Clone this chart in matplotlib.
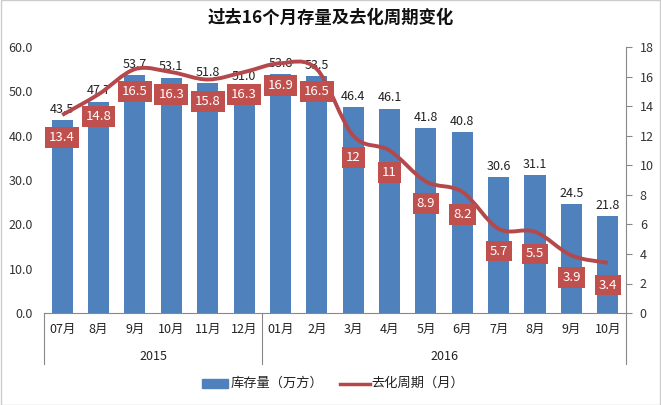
import matplotlib.pyplot as plt
import numpy as np
from matplotlib.path import Path
from matplotlib.patches import PathPatch, Rectangle

plt.rcParams['font.family'] = ['Noto Sans CJK SC', 'DejaVu Sans']

months = ["07月", "8月", "9月", "10月", "11月", "12月", "01月", "2月",
          "3月", "4月", "5月", "6月", "7月", "8月", "9月", "10月"]
years = ["2015", "2016"]
year_counts = [6, 10]
stock = [43.5, 47.7, 53.7, 53.1, 51.8, 51.0, 53.8, 53.5,
         46.4, 46.1, 41.8, 40.8, 30.6, 31.1, 24.5, 21.8]
cycle = [13.4, 14.8, 16.5, 16.3, 15.8, 16.3, 16.9, 16.5,
         12, 11, 8.9, 8.2, 5.7, 5.5, 3.9, 3.4]
cycle_labels = ["13.4", "14.8", "16.5", "16.3", "15.8", "16.3", "16.9", "16.5",
                "12", "11", "8.9", "8.2", "5.7", "5.5", "3.9", "3.4"]

bar_c = "#4F81BD"
line_c = "#B5484A"
box_c = "#C0504D"

fig = plt.figure(figsize=(6.61, 4.05), dpi=100)
ax = fig.add_axes([0.0666, 0.227, 0.8804, 0.657])
x = np.arange(len(months))

ax.bar(x, stock, width=0.58, color=bar_c, zorder=2)
for xi, v in zip(x, stock):
    ax.annotate(f"{v:.1f}", (xi, v), xytext=(0, 3), textcoords="offset points",
                ha="center", va="bottom", fontsize=9, color="#222222")

ax.set_xlim(-0.5, len(months) - 0.5)
ax.set_ylim(0, 60)
ax.set_yticks(np.arange(0, 61, 10))
ax.set_yticklabels([f"{v:.1f}" for v in range(0, 61, 10)], fontsize=9, color="#333333")
ax.tick_params(axis="y", length=0, pad=8)
ax.set_xticks(x)
ax.set_xticklabels(months, fontsize=9, color="#222222")
ax.tick_params(axis="x", length=0, pad=7)
for s in ["left", "top", "right"]:
    ax.spines[s].set_visible(False)
ax.spines["bottom"].set_color("#888888")

ax2 = ax.twinx()
ax2.set_ylim(0, 18)
ax2.set_yticks(np.arange(0, 19, 2))
ax2.tick_params(axis="y", labelsize=9, labelcolor="#333333", length=4, color="#888888", pad=6)
for s in ["left", "top", "bottom"]:
    ax2.spines[s].set_visible(False)
ax2.spines["right"].set_color("#888888")

# smoothed line (Catmull-Rom -> cubic Bezier)
pts = np.column_stack([x, cycle]).astype(float)
verts = [tuple(pts[0])]
codes = [Path.MOVETO]
n = len(pts)
t = 1 / 6
for i in range(n - 1):
    p0 = pts[max(i - 1, 0)]
    p1 = pts[i]
    p2 = pts[i + 1]
    p3 = pts[min(i + 2, n - 1)]
    c1 = p1 + (p2 - p0) * t
    c2 = p2 - (p3 - p1) * t
    verts += [tuple(c1), tuple(c2), tuple(p2)]
    codes += [Path.CURVE4] * 3
ax2.add_patch(PathPatch(Path(verts, codes), facecolor="none", edgecolor=line_c, lw=2.8, zorder=3))

for xi, v, lab in zip(x, cycle, cycle_labels):
    ax2.annotate(lab, (xi, v), xytext=(0, -16), textcoords="offset points",
                 ha="center", va="center", fontsize=9.5, color="white", zorder=5,
                 bbox=dict(boxstyle="square,pad=0.3", fc=box_c, ec="none"))

# year grouping
bounds = [0]
for c in year_counts:
    bounds.append(bounds[-1] + c)
for b in bounds:
    ax.plot([(b) / len(months)] * 2, [0, -0.19], transform=ax.transAxes,
            color="#888888", lw=0.8, clip_on=False)
for yr, a, b in zip(years, bounds[:-1], bounds[1:]):
    ax.text((a + b) / 2 / len(months), -0.165, yr, transform=ax.transAxes,
            ha="center", va="center", fontsize=9, color="#222222")

fig.text(0.5, 0.955, "过去16个月存量及去化周期变化", ha="center", va="center",
         fontsize=12.5, fontweight="bold", color="#111111")

# legend
fig.patches.append(Rectangle((0.305, 0.042), 0.04, 0.022, transform=fig.transFigure,
                             color=bar_c, figure=fig))
fig.text(0.349, 0.053, "库存量（万方）", fontsize=9.5, va="center", color="#222222")
fig.lines.append(plt.Line2D([0.515, 0.56], [0.053, 0.053], transform=fig.transFigure,
                            color=line_c, lw=2.5, figure=fig))
fig.text(0.562, 0.053, "去化周期（月）", fontsize=9.5, va="center", color="#222222")

fig.patches.append(Rectangle((0.001, 0.001), 0.998, 0.998, transform=fig.transFigure,
                             fill=False, ec="#cccccc", lw=1, figure=fig))

fig.savefig("out.png", dpi=100)
